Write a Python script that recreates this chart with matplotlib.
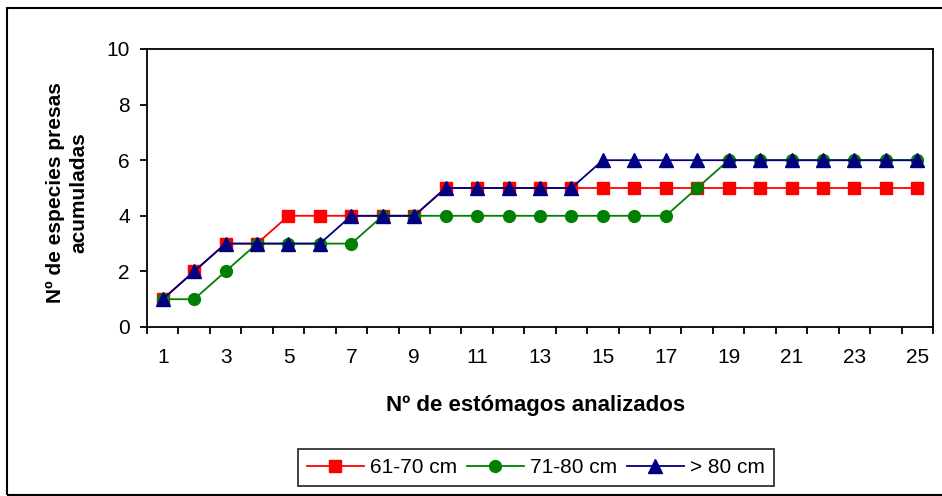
import matplotlib
matplotlib.use("Agg")
import matplotlib.pyplot as plt
from matplotlib.patches import Rectangle

plt.rcParams['font.family'] = ['Liberation Sans', 'DejaVu Sans']

# Data
stomachs = list(range(1, 26))
sp_61_70 = [1, 2, 3, 3, 4, 4, 4, 4, 4, 5, 5, 5, 5, 5, 5, 5, 5, 5, 5, 5, 5, 5, 5, 5, 5]
sp_71_80 = [1, 1, 2, 3, 3, 3, 3, 4, 4, 4, 4, 4, 4, 4, 4, 4, 4, 5, 6, 6, 6, 6, 6, 6, 6]
sp_80 = [1, 2, 3, 3, 3, 3, 4, 4, 4, 5, 5, 5, 5, 5, 6, 6, 6, 6, 6, 6, 6, 6, 6, 6, 6]
labels = ['61-70 cm', '71-80 cm', '> 80 cm']
xtick_labels = [str(v) for v in range(1, 26, 2)]

W, H = 942, 496
fig = plt.figure(figsize=(W / 100, H / 100), dpi=100)
ax = fig.add_axes([147 / W, 1 - 327 / H, (933 - 147) / W, (327 - 49) / H])

# outer chart border (right edge runs off the picture)
fig.patches.append(Rectangle((7 / W, 1 / H), 1.2, 487 / H, transform=fig.transFigure,
                             fill=False, edgecolor='black', linewidth=1.5))

ax.plot(stomachs, sp_61_70, color='#FF0000', marker='s', markersize=8, linewidth=1.3, label=labels[0])
ax.plot(stomachs, sp_71_80, color='#008000', marker='o', markersize=8.5, linewidth=1.3, label=labels[1])
ax.plot(stomachs, sp_80, color='#000080', marker='^', markersize=10, linewidth=1.3, label=labels[2])

ax.set_xlim(0.5, 25.5)
ax.set_ylim(0, 10)
ax.set_yticks(range(0, 11, 2))
ax.set_xticks(range(1, 26, 2))
ax.set_xticklabels(xtick_labels)
ax.set_xticks([i + 0.5 for i in range(0, 26)], minor=True)
ax.tick_params(axis='x', which='major', length=0, pad=15, labelsize=15)
ax.tick_params(axis='x', which='minor', length=5, width=1.3, direction='out')
ax.tick_params(axis='y', length=5, width=1.3, direction='out', labelsize=15, pad=7.5)
for s in ax.spines.values():
    s.set_linewidth(1.3)

ax.set_xlabel('Nº de estómagos analizados', fontsize=16, fontweight='bold')
ax.xaxis.label.set_va('center')
ax.xaxis.set_label_coords((536 - 147) / (933 - 147), (327 - 406) / (327 - 49))
fig.text(67 / W, 1 - 193 / H, 'Nº de especies presas\nacumuladas', rotation=90,
         ha='center', va='center', fontsize=15, fontweight='bold', linespacing=1.3)

leg = fig.legend(loc='center', bbox_to_anchor=(536 / W, 1 - 467.5 / H), ncol=3,
                 fontsize=15, frameon=True, fancybox=False, edgecolor='black',
                 handlelength=2.7, columnspacing=0.5, handletextpad=0.3,
                 borderpad=0.45, borderaxespad=0)
leg.get_frame().set_linewidth(1.3)

fig.savefig('out.png', dpi=100)
